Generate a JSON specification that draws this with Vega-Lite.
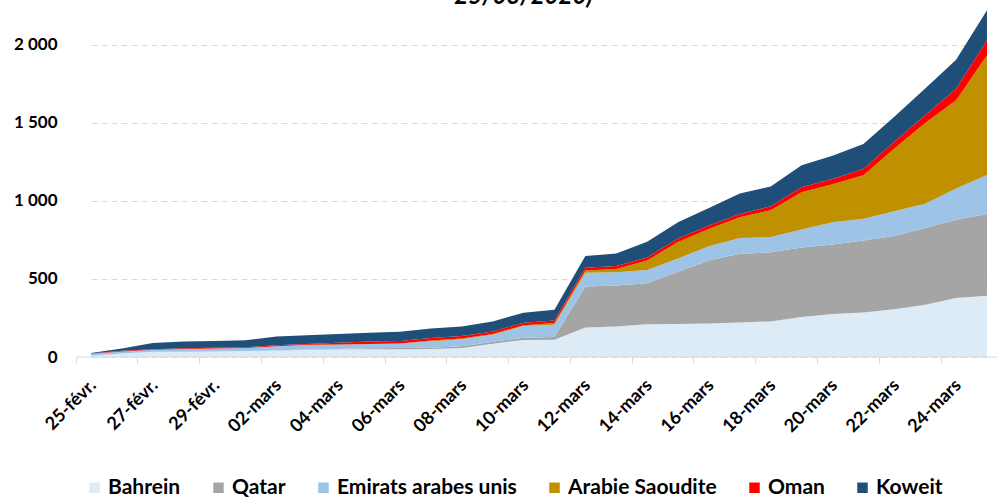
{
  "$schema": "https://vega.github.io/schema/vega-lite/v6.json",
  "width": 921,
  "height": 357,
  "autosize": {"type": "none"},
  "padding": {"left": 76, "top": 0, "right": 0, "bottom": 143},
  "background": "white",
  "config": {"view": {"stroke": null}},
  "layer": [
    {
      "data": {"values": [
        {"date": "25-févr.", "Bahrein": 8, "Qatar": 0, "Emirats arabes unis": 13, "Arabie Saoudite": 0, "Oman": 2, "Koweit": 3},
        {"date": "26-févr.", "Bahrein": 23, "Qatar": 0, "Emirats arabes unis": 13, "Arabie Saoudite": 0, "Oman": 4, "Koweit": 15},
        {"date": "27-févr.", "Bahrein": 33, "Qatar": 0, "Emirats arabes unis": 13, "Arabie Saoudite": 0, "Oman": 4, "Koweit": 40},
        {"date": "28-févr.", "Bahrein": 33, "Qatar": 0, "Emirats arabes unis": 19, "Arabie Saoudite": 0, "Oman": 4, "Koweit": 43},
        {"date": "29-févr.", "Bahrein": 36, "Qatar": 0, "Emirats arabes unis": 19, "Arabie Saoudite": 0, "Oman": 4, "Koweit": 43},
        {"date": "01-mars", "Bahrein": 38, "Qatar": 0, "Emirats arabes unis": 19, "Arabie Saoudite": 0, "Oman": 6, "Koweit": 45},
        {"date": "02-mars", "Bahrein": 41, "Qatar": 1, "Emirats arabes unis": 27, "Arabie Saoudite": 0, "Oman": 6, "Koweit": 56},
        {"date": "03-mars", "Bahrein": 47, "Qatar": 3, "Emirats arabes unis": 27, "Arabie Saoudite": 1, "Oman": 6, "Koweit": 56},
        {"date": "04-mars", "Bahrein": 49, "Qatar": 3, "Emirats arabes unis": 27, "Arabie Saoudite": 1, "Oman": 12, "Koweit": 56},
        {"date": "05-mars", "Bahrein": 49, "Qatar": 7, "Emirats arabes unis": 27, "Arabie Saoudite": 1, "Oman": 15, "Koweit": 56},
        {"date": "06-mars", "Bahrein": 49, "Qatar": 8, "Emirats arabes unis": 29, "Arabie Saoudite": 1, "Oman": 16, "Koweit": 58},
        {"date": "07-mars", "Bahrein": 52, "Qatar": 8, "Emirats arabes unis": 40, "Arabie Saoudite": 5, "Oman": 16, "Koweit": 61},
        {"date": "08-mars", "Bahrein": 58, "Qatar": 11, "Emirats arabes unis": 45, "Arabie Saoudite": 5, "Oman": 16, "Koweit": 61},
        {"date": "09-mars", "Bahrein": 85, "Qatar": 12, "Emirats arabes unis": 45, "Arabie Saoudite": 5, "Oman": 16, "Koweit": 65},
        {"date": "10-mars", "Bahrein": 109, "Qatar": 15, "Emirats arabes unis": 74, "Arabie Saoudite": 5, "Oman": 16, "Koweit": 65},
        {"date": "11-mars", "Bahrein": 110, "Qatar": 18, "Emirats arabes unis": 78, "Arabie Saoudite": 11, "Oman": 16, "Koweit": 69},
        {"date": "12-mars", "Bahrein": 189, "Qatar": 262, "Emirats arabes unis": 88, "Arabie Saoudite": 15, "Oman": 18, "Koweit": 74},
        {"date": "13-mars", "Bahrein": 195, "Qatar": 262, "Emirats arabes unis": 85, "Arabie Saoudite": 22, "Oman": 18, "Koweit": 80},
        {"date": "14-mars", "Bahrein": 210, "Qatar": 262, "Emirats arabes unis": 85, "Arabie Saoudite": 60, "Oman": 20, "Koweit": 100},
        {"date": "15-mars", "Bahrein": 211, "Qatar": 335, "Emirats arabes unis": 85, "Arabie Saoudite": 105, "Oman": 22, "Koweit": 105},
        {"date": "16-mars", "Bahrein": 214, "Qatar": 403, "Emirats arabes unis": 92, "Arabie Saoudite": 110, "Oman": 22, "Koweit": 112},
        {"date": "17-mars", "Bahrein": 221, "Qatar": 440, "Emirats arabes unis": 100, "Arabie Saoudite": 133, "Oman": 22, "Koweit": 130},
        {"date": "18-mars", "Bahrein": 228, "Qatar": 442, "Emirats arabes unis": 98, "Arabie Saoudite": 171, "Oman": 26, "Koweit": 126},
        {"date": "19-mars", "Bahrein": 256, "Qatar": 445, "Emirats arabes unis": 115, "Arabie Saoudite": 238, "Oman": 33, "Koweit": 140},
        {"date": "20-mars", "Bahrein": 275, "Qatar": 445, "Emirats arabes unis": 142, "Arabie Saoudite": 243, "Oman": 34, "Koweit": 149},
        {"date": "21-mars", "Bahrein": 285, "Qatar": 460, "Emirats arabes unis": 140, "Arabie Saoudite": 278, "Oman": 41, "Koweit": 160},
        {"date": "22-mars", "Bahrein": 305, "Qatar": 470, "Emirats arabes unis": 158, "Arabie Saoudite": 402, "Oman": 43, "Koweit": 160},
        {"date": "23-mars", "Bahrein": 334, "Qatar": 491, "Emirats arabes unis": 156, "Arabie Saoudite": 516, "Oman": 50, "Koweit": 172},
        {"date": "24-mars", "Bahrein": 377, "Qatar": 501, "Emirats arabes unis": 201, "Arabie Saoudite": 564, "Oman": 74, "Koweit": 186},
        {"date": "25-mars", "Bahrein": 392, "Qatar": 523, "Emirats arabes unis": 250, "Arabie Saoudite": 767, "Oman": 95, "Koweit": 192}
      ]},
      "transform": [
        {"fold": ["Bahrein", "Qatar", "Emirats arabes unis", "Arabie Saoudite", "Oman", "Koweit"], "as": ["pays", "cas"]},
        {"calculate": "indexof(['Bahrein','Qatar','Emirats arabes unis','Arabie Saoudite','Oman','Koweit'], datum.pays)", "as": "rang"}
      ],
      "mark": {"type": "area", "opacity": 1, "interpolate": "linear"},
      "encoding": {
        "x": {
          "field": "date", "type": "ordinal", "sort": null,
          "scale": {"type": "point", "range": [15, 911], "padding": 0},
          "axis": {
            "title": null,
            "values": ["25-févr.", "27-févr.", "29-févr.", "02-mars", "04-mars", "06-mars", "08-mars", "10-mars", "12-mars", "14-mars", "16-mars", "18-mars", "20-mars", "22-mars", "24-mars"],
            "labelAngle": -45, "labelAlign": "right", "labelBaseline": "top",
            "labelFont": "Lato", "labelFontSize": 18, "labelFontWeight": "bold", "labelColor": "#000000",
            "tickColor": "#d9d9d9", "tickSize": 6, "tickOffset": -15.45, "labelOffset": 11,
            "labelPadding": 13, "domain": false, "grid": false
          }
        },
        "y": {
          "field": "cas", "type": "quantitative", "stack": "zero",
          "scale": {"domain": [0, 2285], "nice": false},
          "axis": {
            "title": null, "values": [0, 500, 1000, 1500, 2000],
            "labelExpr": "replace(format(datum.value, ','), ',', ' ')",
            "labelFont": "Lato", "labelFontSize": 17, "labelFontWeight": "bold", "labelColor": "#000000",
            "ticks": false, "domain": false, "labelPadding": 19,
            "grid": true, "gridColor": "#d9d9d9", "gridDash": [6, 4], "gridWidth": 1
          }
        },
        "color": {
          "field": "pays", "type": "nominal",
          "scale": {
            "domain": ["Bahrein", "Qatar", "Emirats arabes unis", "Arabie Saoudite", "Oman", "Koweit"],
            "range": ["#DDEBF7", "#A5A5A5", "#9DC3E6", "#BF9000", "#FF0000", "#1F4E79"]
          },
          "legend": {
            "title": null, "orient": "none", "legendX": 8, "legendY": 477, "direction": "horizontal",
            "symbolType": "square", "symbolSize": 110, "symbolStrokeWidth": 0,
            "labelFont": "Lato", "labelFontSize": 21, "labelFontWeight": "bold", "labelColor": "#000000",
            "labelLimit": 400, "columnPadding": 27, "labelOffset": 3
          }
        },
        "order": {"field": "rang", "type": "quantitative"}
      }
    },
    {
      "data": {"values": [{}]},
      "mark": {"type": "rule", "color": "#d9d9d9", "strokeWidth": 1},
      "encoding": {"y": {"datum": 0}}
    },
    {
      "data": {"values": [{"titre": "25/03/2020)"}]},
      "mark": {"type": "text", "font": "Lato", "fontSize": 24, "fontWeight": "bold", "fontStyle": "italic", "color": "#000000", "align": "center", "baseline": "alphabetic", "dy": 4, "dx": 0},
      "encoding": {
        "text": {"field": "titre", "type": "nominal"},
        "x": {"datum": "10-mars"},
        "y": {"datum": 2285}
      }
    }
  ]
}
